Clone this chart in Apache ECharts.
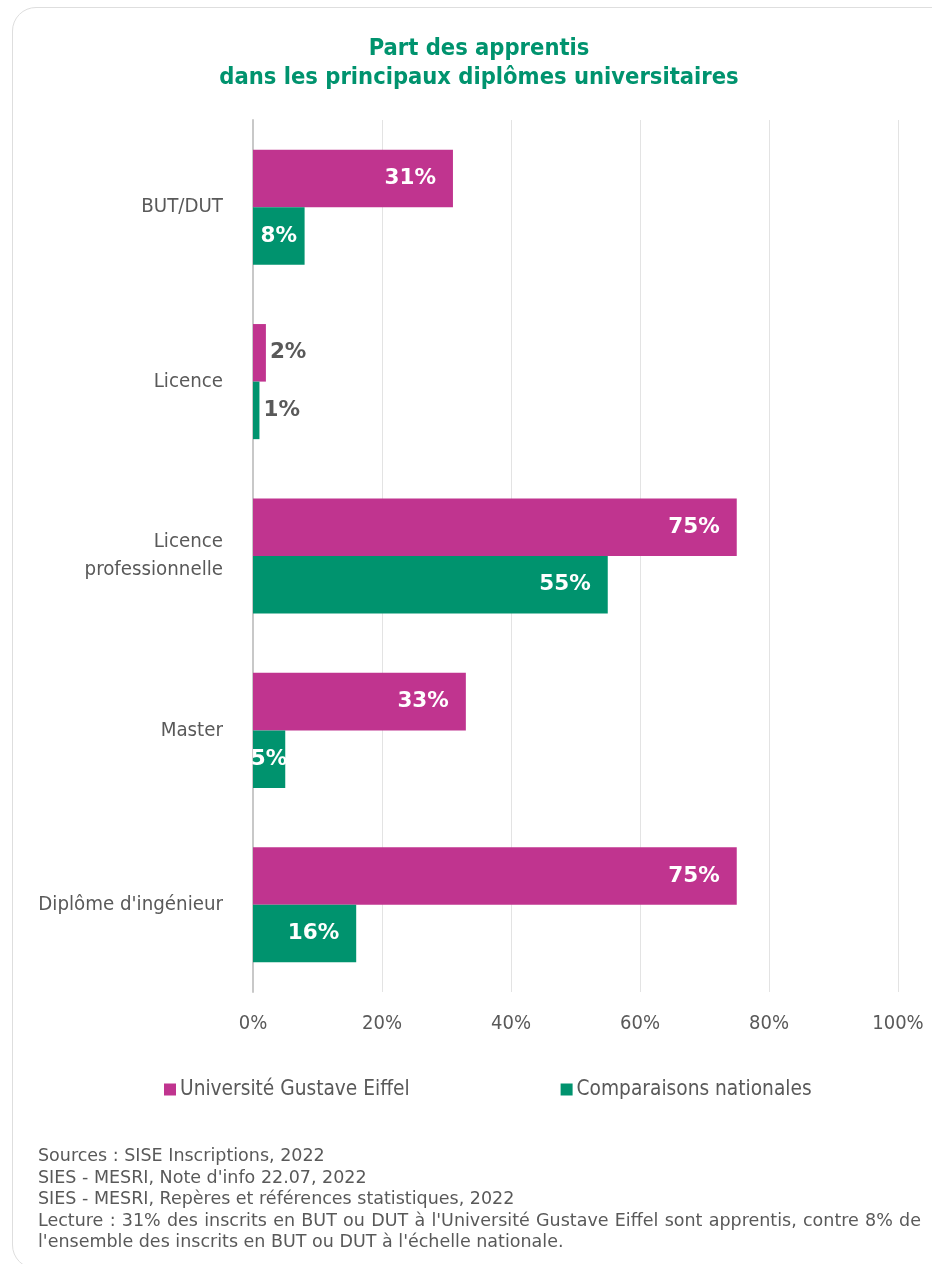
<!DOCTYPE html>
<html>
<head>
<meta charset="utf-8">
<script src="https://cdn.jsdelivr.net/npm/echarts@6/dist/echarts.min.js"></script>
<style>
  html, body { margin: 0; padding: 0; background: #fff; overflow: hidden; }
  #card {
    position: absolute; left: 12px; top: 7px; width: 1000px; height: 1262px;
    border: 1.5px solid #dedede; border-radius: 24px; box-sizing: border-box;
  }
  #chart { position: absolute; left: 0; top: 0; width: 932px; height: 1264px; }
  #notes {
    position: absolute; left: 38px; top: 1145px; width: 883px;
    font-family: "DejaVu Sans", sans-serif; font-size: 17.5px;
    color: #595959; line-height: 21.5px;
  }
  #notes .just { text-align: justify; text-align-last: justify; }
</style>
</head>
<body>
<div id="card"></div>
<div id="chart"></div>
<div id="notes">
  <div>Sources : SISE Inscriptions, 2022</div>
  <div>SIES - MESRI, Note d'info 22.07, 2022</div>
  <div>SIES - MESRI, Repères et références statistiques, 2022</div>
  <div class="just">Lecture : 31% des inscrits en BUT ou DUT à l'Université Gustave Eiffel sont apprentis, contre 8% de</div>
  <div>l'ensemble des inscrits en BUT ou DUT à l'échelle nationale.</div>
</div>
<script>
const categories = ['BUT/DUT', 'Licence', 'Licence\nprofessionnelle', 'Master', "Diplôme d'ingénieur"]
const ugeValues = [31, 2, 75, 33, 75]
const natValues = [8, 1, 55, 5, 16]
const tickValues = [0, 20, 40, 60, 80, 100]

const font = '"DejaVu Sans", sans-serif'
const narrow = '"DejaVu Sans Condensed", sans-serif'
const pink = '#c0348f'
const green = '#00936e'

// where the value label goes, depending on bar length
function labelled (v) {
  if (v < 3) {
    return { value: v, label: { position: 'right', distance: 4, color: '#595959' } }
  }
  if (v < 10) {
    return { value: v, label: { position: 'inside' } }
  }
  return v
}

const barLabel = {
  show: true,
  position: 'insideRight',
  distance: 17,
  color: '#fff',
  fontFamily: font,
  fontWeight: 'bold',
  fontSize: 21.5,
  formatter: '{c}%'
}

const chart = echarts.init(document.getElementById('chart'))
chart.setOption({
  animation: false,
  title: {
    text: 'Part des apprentis\ndans les principaux diplômes universitaires',
    left: 474,
    top: 29,
    textAlign: 'center',
    textStyle: {
      color: '#00936e',
      fontFamily: narrow,
      fontWeight: 'bold',
      fontSize: 23.5,
      lineHeight: 29
    }
  },
  legend: {
    left: 159,
    top: 1074,
    itemWidth: 12,
    itemHeight: 12,
    itemGap: 151,
    icon: 'rect',
    textStyle: { color: '#595959', fontFamily: narrow, fontSize: 20.7, padding: [0, 0, 0, -1] },
    data: ['Université Gustave Eiffel', 'Comparaisons nationales']
  },
  grid: { left: 253, right: 34, top: 120, bottom: 272 },
  xAxis: {
    type: 'value',
    min: 0,
    max: 100,
    interval: 20,
    axisLine: { show: false },
    axisTick: { show: false },
    splitLine: { lineStyle: { color: '#e3e3e3', width: 1 } },
    axisLabel: {
      margin: 22,
      color: '#595959',
      fontFamily: narrow,
      fontSize: 20,
      formatter: v => tickValues.includes(v) ? v + '%' : ''
    }
  },
  yAxis: {
    type: 'category',
    inverse: true,
    data: categories,
    axisLine: { lineStyle: { color: '#c8c8c8', width: 2 } },
    axisTick: { show: false },
    axisLabel: {
      margin: 30,
      color: '#595959',
      fontFamily: narrow,
      fontSize: 20.3,
      lineHeight: 28
    }
  },
  series: [
    {
      name: 'Université Gustave Eiffel',
      type: 'bar',
      barGap: '0%',
      barCategoryGap: '34%',
      itemStyle: { color: pink },
      label: barLabel,
      data: ugeValues.map(labelled)
    },
    {
      name: 'Comparaisons nationales',
      type: 'bar',
      barGap: '0%',
      barCategoryGap: '34%',
      itemStyle: { color: green },
      label: barLabel,
      data: natValues.map(labelled)
    }
  ]
})
</script>
</body>
</html>
